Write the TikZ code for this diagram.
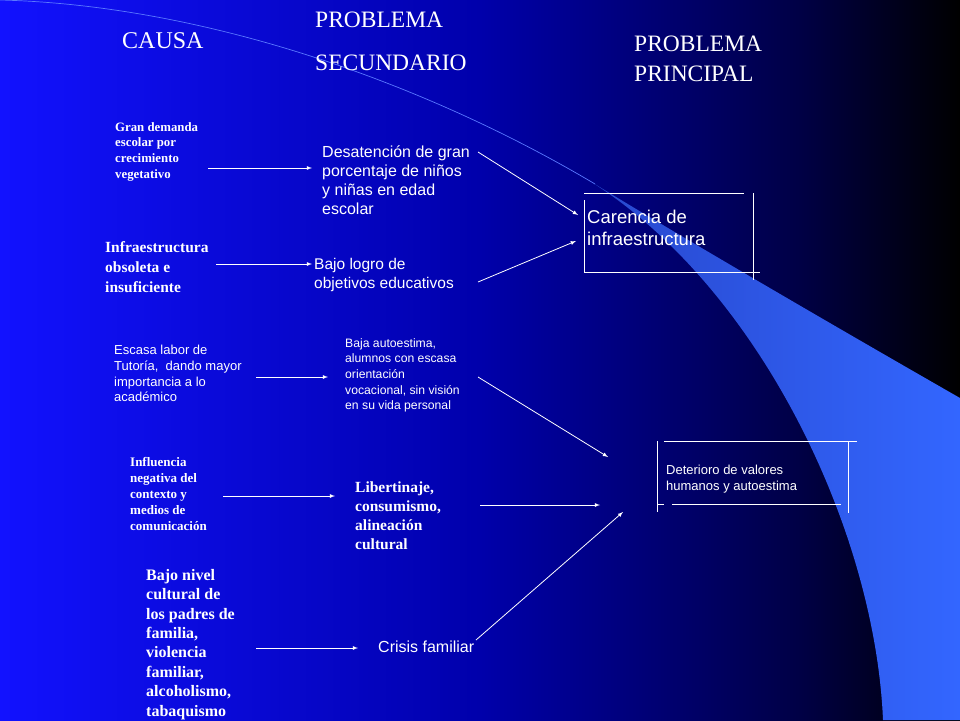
\documentclass[tikz,border=0pt]{standalone}
\usepackage{fontspec}
\setmainfont{Liberation Serif}
\setsansfont{Liberation Sans}
\usepackage{tikz}
\newcommand{\fz}[2]{\fontsize{#1}{#2}\selectfont}
\pgfdeclarehorizontalshading{fondo}{100bp}{rgb(0bp)=(0.07,0.07,1); rgb(25bp)=(0.07,0.07,1); rgb(50bp)=(0,0,0.67); rgb(66.7bp)=(0,0,0.27); rgb(75bp)=(0,0,0); rgb(100bp)=(0,0,0)}
\definecolor{curva}{RGB}{90,120,255}

\begin{document}
\begin{tikzpicture}[x=1pt,y=-1pt,>=latex,white,
  txt/.style={anchor=north west,inner sep=0,align=left,text=white},
  arr/.style={->,line width=0.8pt},
  caja/.style={line width=0.8pt}]
      \shade[shading=fondo] (0,0) rectangle (960,720);
      \useasboundingbox (0,0) rectangle (960,720);
      \draw[curva,line width=0.7pt] (0,0) .. controls (200,5) and (420,80) .. (595,184);
      \shade[left color={rgb,255:red,40;green,72;blue,205},right color={rgb,255:red,51;green,102;blue,255}]
        (593,183) .. controls (700,248) and (850,335) .. (960,398)
        -- (960,720) -- (883,720) .. controls (875,530) and (760,290) .. (593,183) -- cycle;
      \node[txt,font=\fz{24}{28}] (causa) at (122,32) {CAUSA};
      \node[txt,font=\fz{23.5}{43}] (secundario) at (315,12) {PROBLEMA\\SECUNDARIO};
      \node[txt,font=\fz{23.5}{30}] (principal) at (634,36) {PROBLEMA\\PRINCIPAL};
      \node[txt,font=\fz{12.8}{15.7}\bfseries] (c1) at (115,122) {Gran demanda\\escolar por\\crecimiento\\vegetativo};
      \node[txt,font=\fz{15.5}{20}\bfseries] (c2) at (105,241) {Infraestructura\\obsoleta e\\insuficiente};
      \node[txt,font=\fz{13}{15.7}\sffamily] (c3) at (114,345) {Escasa labor de\\Tutoría,\ \ dando mayor\\importancia a lo\\académico};
      \node[txt,font=\fz{13}{16}\bfseries] (c4) at (130,457) {Influencia\\negativa del\\contexto y\\medios de\\comunicación};
      \node[txt,font=\fz{16}{19.4}\bfseries] (c5) at (146,569) {Bajo nivel\\cultural de\\los padres de\\familia,\\violencia\\familiar,\\alcoholismo,\\tabaquismo};
      \node[txt,font=\fz{16}{19}\sffamily] (s1) at (322,146) {Desatención de gran\\porcentaje de niños\\y niñas en edad\\escolar};
      \node[txt,font=\fz{15.5}{19}\sffamily] (s2) at (314,258) {Bajo logro de\\objetivos educativos};
      \node[txt,font=\fz{12.2}{15.7}\sffamily] (s3) at (345,338) {Baja autoestima,\\alumnos con escasa\\orientación\\vocacional, sin visión\\en su vida personal};
      \node[txt,font=\fz{15.5}{19}\bfseries] (s4) at (355,482) {Libertinaje,\\consumismo,\\alineación\\cultural};
      \node[txt,font=\fz{16}{19}\sffamily] (s5) at (378,641) {Crisis familiar};
      \node[txt,font=\fz{18.5}{22}\sffamily] (p1) at (587,210) {Carencia de\\infraestructura};
      \node[txt,font=\fz{13}{16}\sffamily] (p2) at (666,465) {Deterioro de valores\\humanos y autoestima};
      \draw[caja] (584,193) -- (744,193) (753,193) -- (753,280) (584,272) -- (760,272) (584,200) -- (584,272);
      \draw[caja] (664,441) -- (857,441) (848,441) -- (848,513) (657,441) -- (657,512) (657,504) -- (664,504) (672,504) -- (841,504);
      \coordinate (a1) at (208,168); \coordinate (b1) at (312,168);
      \coordinate (a2) at (216,264); \coordinate (b2) at (312,264);
      \coordinate (a3) at (256,377); \coordinate (b3) at (328,377);
      \coordinate (a4) at (223,496); \coordinate (b4) at (335,496);
      \coordinate (a5) at (256,648); \coordinate (b5) at (358,648);
      \coordinate (d1) at (478,152); \coordinate (e1) at (578,215);
      \coordinate (d2) at (478,282); \coordinate (e2) at (576,241);
      \coordinate (d3) at (478,377); \coordinate (e3) at (608,457);
      \coordinate (d4) at (480,505); \coordinate (e4) at (600,505);
      \coordinate (d5) at (476,640); \coordinate (e5) at (623,512);
      \foreach \i in {1,...,5} {
        \draw[arr] (a\i) -- (b\i);
        \draw[arr] (d\i) -- (e\i);
      }
    \end{tikzpicture}
\end{document}
